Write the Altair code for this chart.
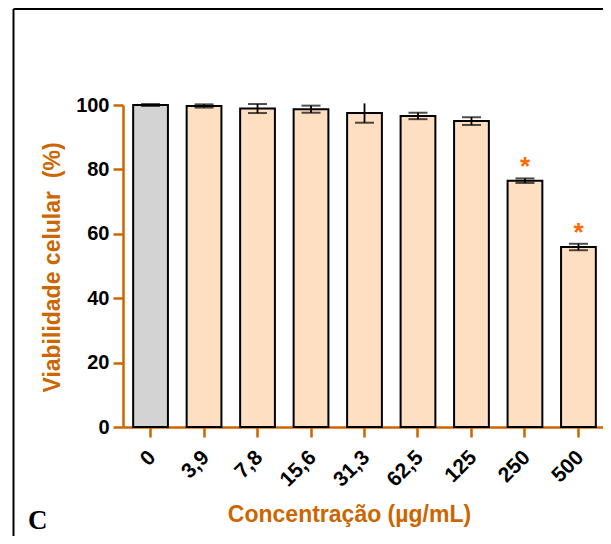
import altair as alt
import pandas as pd

# ---- data ----
concentracoes = ["0", "3,9", "7,8", "15,6", "31,3", "62,5", "125", "250", "500"]
viabilidade = [100.0, 99.7, 98.9, 98.7, 97.5, 96.6, 95.0, 76.5, 55.9]
erro = [0.3, 0.5, 1.4, 1.1, 3.0, 1.0, 1.2, 0.7, 1.0]
grupo = ["controle"] + ["tratado"] * 8
significancia = ["", "", "", "", "", "", "", "*", "*"]
cap_superior = [True, True, True, True, False, True, True, True, True]
y_ticks = [0, 20, 40, 60, 80, 100]
painel = ["C"]

x_title = "Concentração (µg/mL)"
y_title = "Viabilidade celular\u00a0\u00a0(%)"

ORANGE = "#CC6600"
STAR = "#FF6A00"
PEACH = "#FFDFC2"
GRAY = "#D3D3D3"
FONT = "Liberation Sans"

W, H = 483, 322

df = pd.DataFrame({
    "conc": concentracoes,
    "v": viabilidade,
    "e": erro,
    "grupo": grupo,
    "sig": significancia,
})
df["lo"] = df["v"] - df["e"]
df["hi"] = df["v"] + df["e"]

caps_rows = []
for c, lo, hi, top in zip(df["conc"], df["lo"], df["hi"], cap_superior):
    caps_rows.append({"conc": c, "y": lo})
    if top:
        caps_rows.append({"conc": c, "y": hi})
caps = pd.DataFrame(caps_rows)

x_enc = alt.X(
    "conc:N",
    sort=concentracoes,
    scale=alt.Scale(paddingInner=0.35, paddingOuter=0.19),
    axis=alt.Axis(
        title=x_title,
        labelAngle=315,
        labelAlign="right",
        labelBaseline="middle",
        labelPadding=17,
        labelOffset=2,
        labelFontSize=21,
        tickSize=10,
        titleX=226,
        titleY=94,
        titleAnchor="start",
        titleAlign="center",
        titleBaseline="alphabetic",
    ),
)
y_enc = alt.Y(
    "v:Q",
    scale=alt.Scale(domain=[0, 100], nice=False),
    axis=alt.Axis(
        title=y_title,
        values=y_ticks,
        tickSize=10,
        labelPadding=4,
        grid=False,
        titleX=-71,
        titleY=162,
        titleAngle=270,
        titleAlign="center",
        titleBaseline="middle",
        titleAnchor="start",
    ),
)

base = alt.Chart(df)

bars = base.mark_bar(stroke="black", strokeWidth=2).encode(
    x=x_enc,
    y=y_enc,
    color=alt.Color(
        "grupo:N",
        scale=alt.Scale(domain=["controle", "tratado"], range=[GRAY, PEACH]),
        legend=None,
    ),
)

err_rule = base.mark_rule(color="black", strokeWidth=1.8).encode(
    x=alt.X("conc:N", sort=concentracoes),
    y=alt.Y("lo:Q"),
    y2="hi:Q",
)

cap_ticks = alt.Chart(caps).mark_tick(
    color="black", thickness=2, size=19, orient="horizontal"
).encode(
    x=alt.X("conc:N", sort=concentracoes),
    y=alt.Y("y:Q"),
)

stars = base.mark_text(
    color=STAR, font=FONT, fontWeight="bold", fontSize=26,
    baseline="alphabetic", dy=-3,
).encode(
    x=alt.X("conc:N", sort=concentracoes),
    y=alt.Y("hi:Q"),
    text="sig:N",
)

frame_left = alt.Chart(pd.DataFrame({"k": [0]})).mark_rule(
    color="black", strokeWidth=2
).encode(x=alt.value(-109.5), y=alt.value(-96), y2=alt.value(H + 120))

frame_top = alt.Chart(pd.DataFrame({"k": [0]})).mark_rule(
    color="black", strokeWidth=2
).encode(x=alt.value(-109.5), x2=alt.value(W + 20), y=alt.value(-96))

label_c = alt.Chart(pd.DataFrame({"t": painel})).mark_text(
    font="Liberation Serif", fontWeight="bold", fontSize=27,
    align="left", baseline="alphabetic", color="black",
).encode(x=alt.value(-95), y=alt.value(424), text="t:N")

chart = alt.layer(
    bars, err_rule, cap_ticks, stars, frame_left, frame_top, label_c
).properties(
    width=W,
    height=H,
    autosize=alt.AutoSizeParams(type="none"),
    padding={"left": 115, "top": 97, "right": -3, "bottom": 109},
).configure_view(
    stroke=None
).configure_axis(
    domainColor=ORANGE,
    domainWidth=2.5,
    tickColor=ORANGE,
    tickWidth=2.5,
    labelFont=FONT,
    labelFontWeight="bold",
    labelFontSize=20,
    labelColor="black",
    titleFont=FONT,
    titleFontWeight="bold",
    titleFontSize=23,
    titleColor=ORANGE,
)

chart.save("out.html", embed_options={"renderer": "svg", "actions": False})
